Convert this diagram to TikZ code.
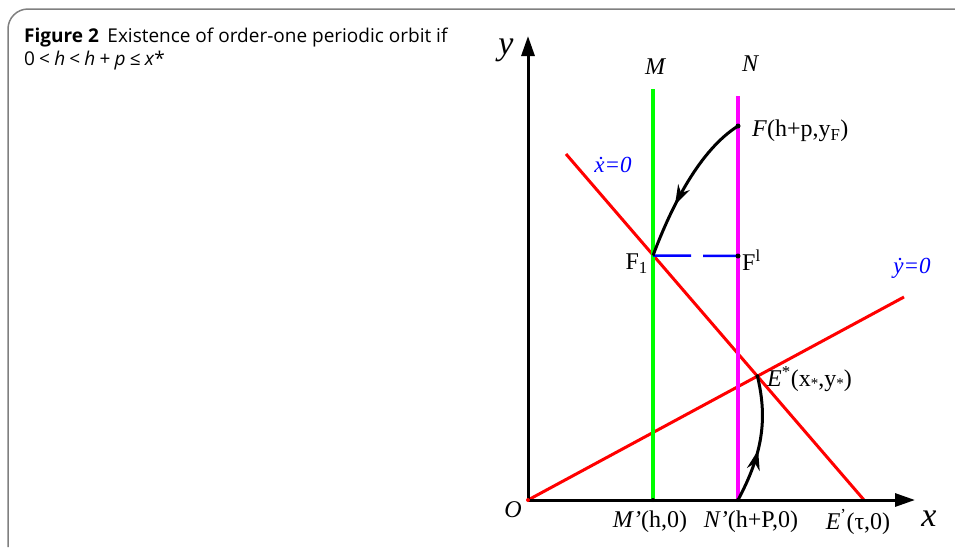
\documentclass[tikz,border=0pt]{standalone}
\usepackage{fontspec}
\setmainfont{Liberation Serif}
\newfontfamily\capfont{Open Sans}
\usetikzlibrary{arrows.meta,decorations.markings,calc}
\definecolor{mag}{RGB}{255,0,255}
\definecolor{grn}{RGB}{0,255,0}
\definecolor{rd}{RGB}{255,0,0}
\definecolor{bl}{RGB}{0,0,255}
\newcommand{\smstar}{\raisebox{-2pt}{\fontsize{15}{15}\selectfont *}}
\begin{document}
\begin{tikzpicture}[x=1pt,y=-1pt,
  axis/.style={line width=3pt,-{Triangle[length=20pt,width=13pt]}},
  redline/.style={rd,line width=3pt},
  vline/.style={line width=3.5pt},
  orbit/.style={line width=3pt},
  dot/.style={circle,fill=black,inner sep=0pt,minimum size=5pt},
  lbl/.style={font=\fontsize{24}{26}\selectfont,inner sep=1pt},
  blbl/.style={font=\fontsize{23}{25}\selectfont\itshape,text=bl,inner sep=1pt},
  midarrow/.style={decoration={markings,mark=at position #1 with {\arrow{Stealth[length=20pt,width=13pt]}}},postaction={decorate}}
]
\useasboundingbox (0,0) rectangle (955,547);
% frame
\draw[gray,line width=1.5pt,rounded corners=20pt] (8,547) -- (8,9) -- (955,9);
% caption
\node[anchor=base west,inner sep=0pt,font=\capfont\fontsize{19}{22}\selectfont] (cap1) at (24,42) {\textbf{Figure 2}\hspace{0.45em}Existence of order-one periodic orbit if};
\node[anchor=base west,inner sep=0pt,font=\capfont\fontsize{19}{22}\selectfont] (cap2) at (24,65) {0\hspace{0.22em}<\hspace{0.22em}\textit{h}\hspace{0.22em}<\hspace{0.22em}\textit{h}\hspace{0.22em}+\hspace{0.22em}\textit{p}\hspace{0.22em}≤\hspace{0.22em}\textit{x}*};
% coordinates
\coordinate (O) at (528,500);
\coordinate (ytip) at (528,36);
\coordinate (xtip) at (915,500);
\coordinate (Mtop) at (653,89);
\coordinate (Mb) at (653,500);
\coordinate (Ntop) at (738,96);
\coordinate (Nb) at (738,500);
\coordinate (L1a) at (566,154);
\coordinate (L1b) at (864,500);
\coordinate (L2a) at (528,500);
\coordinate (L2b) at (904,297);
\coordinate (F) at (738,126);
\coordinate (F1) at (653,255.5);
\coordinate (Fl) at (738,256);
\coordinate (E) at (intersection of L1a--L1b and L2a--L2b);
% lines
\draw[redline] (L1a) -- (L1b);
\draw[redline] (L2a) -- (L2b);
\draw[vline,grn] (Mtop) -- (Mb);
\draw[vline,mag] (Ntop) -- (Nb);
\draw[axis] (O) -- (ytip);
\draw[axis] (O) -- (xtip);
\draw[bl,line width=2.5pt,dash pattern=on 38pt off 12pt] (F1) -- (Fl);
% orbits
\draw[orbit,midarrow=0.65] (F) .. controls (700,150) and (672,205) .. (F1);
\draw[orbit,midarrow=0.42] (Nb) .. controls (762,455) and (768,420) .. (E);
% dots
\node[dot] (Fd) at (F) {};
\node[dot] (Fld) at (Fl) {};
\node[dot,minimum size=4pt] (Ed) at (E) {};
\node[dot,minimum size=4pt] (Md) at (Mb) {};
\node[dot,minimum size=4pt] (Nd) at (Nb) {};
\node[dot,rd,minimum size=4pt] (Od) at (O) {};
% labels
\node[font=\fontsize{34}{36}\selectfont\itshape] (ylab) at (506,50) {y};
\node[font=\fontsize{34}{36}\selectfont\itshape] (xlab) at (929,519) {x};
\node[lbl,font=\fontsize{24}{26}\selectfont\itshape] (Olab) at (513,510) {O};
\node[lbl,font=\fontsize{24}{26}\selectfont\itshape] (Mlab) at (655,67) {M};
\node[lbl,font=\fontsize{24}{26}\selectfont\itshape] (Nlab) at (750,64) {N};
\node[lbl,anchor=west] (Flab) at (751,131) {\textit{F}(h+p,y\textsubscript{F})};
\node[lbl,anchor=east] (F1lab) at (649,264) {F\textsubscript{1}};
\node[lbl,anchor=west] (Fllab) at (741,260) {F\textsuperscript{l}};
\node[lbl,anchor=west] (Elab) at (766,379) {\textit{E}\textsuperscript{*}(x\smstar,y\smstar)};
\node[lbl] (Mplab) at (650,522) {\textit{M}\kern-1pt\textit{'}(h,0)};
\node[lbl] (Nplab) at (751,522) {\textit{N}\kern-1pt\textit{'}(h+P,0)};
\node[lbl] (Eplab) at (858,522) {\textit{E}\textsuperscript{'}(τ,0)};
\node[blbl] (xdot) at (613,165) {\.{x}=0};
\node[blbl] (ydot) at (912,268) {\.{y}=0};
\end{tikzpicture}
\end{document}
